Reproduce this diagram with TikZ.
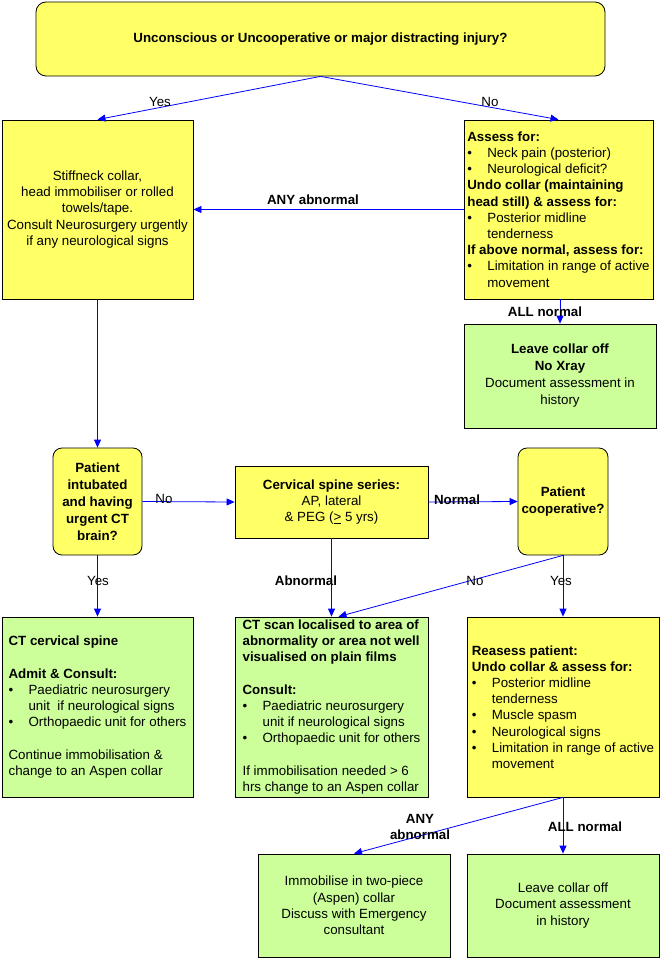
\documentclass[tikz,border=0pt]{standalone}
\usepackage{fontspec}
\setmainfont{Liberation Sans}
\usetikzlibrary{arrows.meta}

\definecolor{boxyellow}{RGB}{255,255,102}
\definecolor{boxgreen}{RGB}{204,255,153}
\newcommand{\bl}{\makebox[20pt][l]{\textbullet}}
\newcommand{\ind}{\hspace*{20pt}}

\begin{document}
\begin{tikzpicture}[x=1pt, y=-1pt,
    every node/.style={font=\fontsize{13.33}{16.2}\selectfont},
    ybox/.style={draw=black, line width=0.8pt, fill=boxyellow, inner sep=3pt},
    gbox/.style={draw=black, line width=0.8pt, fill=boxgreen, inner sep=3pt},
    qbox/.style={ybox, rounded corners=9pt, align=center, font=\fontsize{13.33}{17}\selectfont\bfseries},
    arr/.style={draw=blue, line width=0.8pt, -{Triangle[length=8pt,width=7pt]}},
    lbl/.style={inner sep=1pt},
    blbl/.style={inner sep=1pt, font=\fontsize{13.33}{16}\selectfont\bfseries},
    ]
    \useasboundingbox (0,0) rectangle (664,958);

    %Nodes
    \node[qbox, minimum width=569pt, minimum height=74pt, rounded corners=10pt] at (320.5,39) (top) {Unconscious or Uncooperative or major distracting injury?};
    \node[ybox, minimum width=191pt, minimum height=179pt, align=center] at (97.5,209.5) (stiff) {Stiffneck collar,\\ head immobiliser or rolled\\ towels/tape.\\ Consult Neurosurgery urgently\\ if any neurological signs};
    \node[ybox, minimum width=189pt, minimum height=179pt, align=left] at (558.5,209.5) (assess) {\textbf{Assess for:}\\ \bl Neck pain (posterior)\\ \bl Neurological deficit?\\ \textbf{Undo collar (maintaining}\\ \textbf{head still) \& assess for:}\\ \bl Posterior midline\\ \ind tenderness\\ \textbf{If above normal, assess for:}\\ \bl Limitation in range of active\\ \ind movement};
    \node[gbox, minimum width=192pt, minimum height=104pt, align=center, font=\fontsize{13.33}{17}\selectfont] at (560,376) (leave1) {\textbf{Leave collar off}\\ \textbf{No Xray}\\ Document assessment in\\ history};
    \node[qbox, minimum width=89pt, minimum height=107pt] at (97.5,501.5) (intub) {Patient\\ intubated\\ and having\\ urgent CT\\ brain?};
    \node[ybox, minimum width=193pt, minimum height=72pt, align=center, font=\fontsize{13.33}{16}\selectfont] at (331.5,502) (series) {\textbf{Cervical spine series:}\\ AP, lateral\\ \& PEG (\underline{>} 5 yrs)};
    \node[qbox, minimum width=90pt, minimum height=107pt] at (563,501.5) (coop) {Patient\\ cooperative?};
    \node[gbox, minimum width=191pt, minimum height=180pt, align=left] at (97.5,707) (ctspine) {\textbf{CT cervical spine}\\ ~\\ \textbf{Admit \& Consult:}\\ \bl Paediatric neurosurgery\\ \ind unit\ \ if neurological signs\\ \bl Orthopaedic unit for others\\ ~\\ Continue immobilisation \&\\ change to an Aspen collar};
    \node[gbox, minimum width=193pt, minimum height=180pt, inner sep=2pt, align=left] at (331.5,707) (ctscan) {\textbf{CT scan localised to area of}\\ \textbf{abnormality or area not well}\\ \textbf{visualised on plain films}\\ ~\\ \textbf{Consult:}\\ \bl Paediatric neurosurgery\\ \ind unit if neurological signs\\ \bl Orthopaedic unit for others\\ ~\\ If immobilisation needed > 6\\ hrs change to an Aspen collar};
    \node[ybox, minimum width=192pt, minimum height=180pt, align=left] at (563,707) (reass) {\textbf{Reasess patient:}\\ \textbf{Undo collar \& assess for:}\\ \bl Posterior midline\\ \ind tenderness\\ \bl Muscle spasm\\ \bl Neurological signs\\ \bl Limitation in range of active\\ \ind movement};
    \node[gbox, minimum width=192pt, minimum height=103pt, align=center] at (354,905.5) (immob) {Immobilise in two-piece\\ (Aspen) collar\\ Discuss with Emergency\\ consultant};
    \node[gbox, minimum width=192pt, minimum height=103pt, align=center] at (563,905.5) (leave2) {Leave collar off\\ Document assessment\\ in history};

    %Lines
    \draw[arr] (top.south) -- (stiff.north);
    \draw[arr] (top.south) -- (assess.north);
    \draw[arr] (assess.west) -- (stiff.east);
    \draw[arr] (assess.south -| leave1) -- (leave1.north);
    \draw[arr] (stiff.south) -- (intub.north);
    \draw[arr] (intub.east) -- (series.west);
    \draw[arr] (series.east) -- (coop.west);
    \draw[arr] (intub.south) -- (ctspine.north);
    \draw[arr] (series.south) -- (ctscan.north);
    \draw[arr] (coop.south) -- ([xshift=7pt]ctscan.north);
    \draw[arr] (coop.south) -- (reass.north);
    \draw[arr] (reass.south) -- (immob.north);
    \draw[arr] (reass.south) -- (leave2.north);

    %Labels
    \node[lbl] at (160,102) (yes1) {Yes};
    \node[lbl] at (490,102) (no1) {No};
    \node[blbl] at (313,200) (anyab1) {ANY abnormal};
    \node[blbl] at (545,312) (allnorm1) {ALL normal};
    \node[lbl] at (164,499) (no2) {No};
    \node[blbl] at (457,500) (normal) {Normal};
    \node[lbl] at (98,581) (yes2) {Yes};
    \node[blbl] at (306,581) (abnormal) {Abnormal};
    \node[lbl] at (475,581) (no3) {No};
    \node[lbl] at (561,581) (yes3) {Yes};
    \node[blbl, align=center] at (420,827) (anyab2) {ANY\\ abnormal};
    \node[blbl] at (585,827) (allnorm2) {ALL normal};
\end{tikzpicture}
\end{document}
